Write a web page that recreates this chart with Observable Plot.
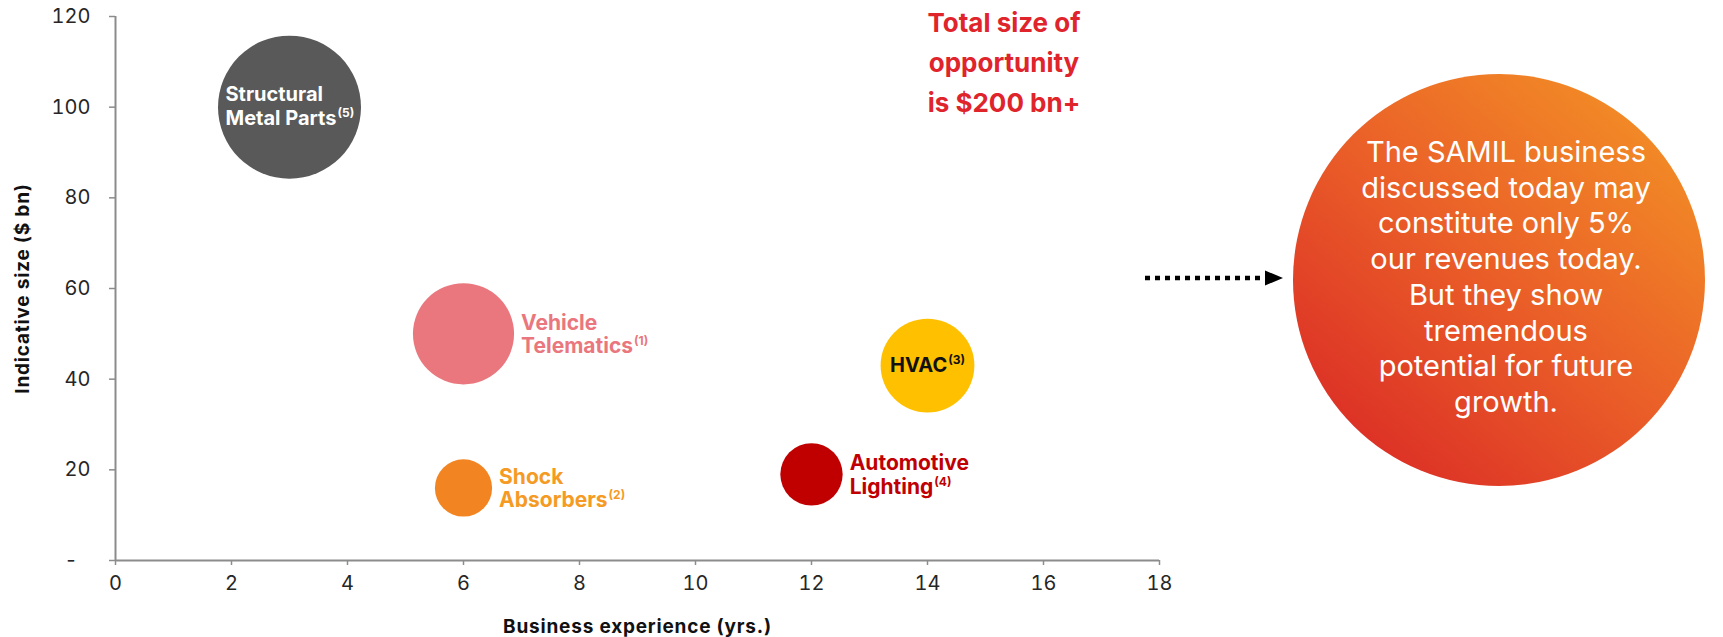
<!DOCTYPE html>
<html>
<head>
<meta charset="utf-8">
<script src="https://cdn.jsdelivr.net/npm/d3@7"></script>
<script src="https://cdn.jsdelivr.net/npm/@observablehq/plot@0.6"></script>
<style>
  html, body { margin: 0; padding: 0; background: #ffffff; }
  #chart { width: 1723px; height: 637px; }
</style>
</head>
<body>
<div id="chart"></div>
<script>
// ---------- data ----------
const segments   = ["Structural\nMetal Parts", "Vehicle\nTelematics", "Shock\nAbsorbers", "HVAC", "Automotive\nLighting"];
const footnotes  = ["(5)", "(1)", "(2)", "(3)", "(4)"];
const experience = [3, 6, 6, 14, 12];        // Business experience (yrs.)
const sizeBn     = [100, 50, 16, 43, 19];    // Indicative size ($ bn)
const bubbleColors = ["#595959", "#E9777D", "#F28522", "#FFC000", "#C00000"];
const labelColors  = ["#FFFFFF", "#E9777D", "#F59A23", "#111111", "#C00000"];
const xTicks = [0, 2, 4, 6, 8, 10, 12, 14, 16, 18];
const yTicks = [0, 20, 40, 60, 80, 100, 120];
const xTitle = "Business experience (yrs.)";
const yTitle = "Indicative size ($ bn)";
const totalLines = ["Total size of", "opportunity", "is $200 bn+"];
const calloutLines = [
  "The SAMIL business",
  "discussed today may",
  "constitute only 5%",
  "our revenues today.",
  "But they show",
  "tremendous",
  "potential for future",
  "growth."
];

const rows = segments.map((name, i) => ({
  name, note: footnotes[i], x: experience[i], size: sizeBn[i],
  color: bubbleColors[i], labelColor: labelColors[i]
}));

// ---------- layout ----------
const FONT = "Inter, 'Noto Sans', 'DejaVu Sans', sans-serif";
const axisGray = "#8c8c8c";
const rMax = 71.5;
const rOf = v => rMax * Math.sqrt(v / 100);
const gap = 7;

// label placement: inside the bubble or to its right
const placement = ["inside-left", "right", "right", "inside", "right"];

const labelMarks = rows.map((d, i) => {
  const p = placement[i];
  const common = {x: "x", y: "size", text: "name", fill: "labelColor", fontWeight: 700, lineAnchor: "middle"};
  if (p === "inside") return Plot.text([d], {...common, textAnchor: "middle", fontSize: 20});
  if (p === "inside-left") return Plot.text([d], {...common, textAnchor: "start", dx: -64, dy: -2, fontSize: 20, lineHeight: 1.2});
  return Plot.text([d], {...common, textAnchor: "start", dx: rOf(d.size) + gap, fontSize: 21, lineHeight: 1.12});
});

const chart = Plot.plot({
  width: 1723,
  height: 637,
  marginLeft: 115,
  marginRight: 564,
  marginTop: 16,
  marginBottom: 77,
  x: {domain: [0, 18]},
  y: {domain: [0, 120]},
  r: {type: "sqrt", domain: [0, 100], range: [0, rMax]},
  color: {type: "identity"},
  style: {fontFamily: FONT, background: "#ffffff", overflow: "visible"},
  marks: [
    Plot.axisY({ticks: yTicks, tickFormat: d => d === 0 ? "-\u2007" : String(d), tickSize: 6, tickPadding: 19,
                fontSize: 20, stroke: axisGray, strokeWidth: 1.5, fill: "#262626", label: null}),
    Plot.axisX({ticks: xTicks, tickFormat: d => String(d), tickSize: 5, tickPadding: 10,
                fontSize: 20, stroke: axisGray, strokeWidth: 1.5, fill: "#262626", label: null}),
    Plot.ruleX([0], {stroke: axisGray, strokeWidth: 2}),
    Plot.ruleY([0], {stroke: axisGray, strokeWidth: 2}),
    Plot.dot(rows, {x: "x", y: "size", r: "size", fill: "color", stroke: "none"}),
    ...labelMarks,
    Plot.text([yTitle], {frameAnchor: "left", dx: -93, rotate: -90, textAnchor: "middle", lineAnchor: "middle",
                         fontSize: 19, fontWeight: 700, fill: "#111"}),
    Plot.text([xTitle], {frameAnchor: "bottom", dy: 66, textAnchor: "middle", lineAnchor: "middle",
                         fontSize: 19, fontWeight: 700, fill: "#111"})
  ]
});

document.getElementById("chart").appendChild(chart);
const svg = d3.select(chart);

// slight tracking on axis titles
svg.selectAll("text")
  .filter(function () { return this.textContent === xTitle || this.textContent === yTitle; })
  .attr("letter-spacing", 0.8);

// superscript footnote markers
rows.forEach(d => {
  const last = d.name.split("\n").pop();
  svg.selectAll("text, tspan")
    .filter(function () { return this.childElementCount === 0 && this.textContent === last; })
    .each(function () {
      d3.select(this).append("tspan")
        .attr("font-size", 12)
        .attr("dx", 1)
        .attr("dy", -8)
        .text(d.note);
    });
});

// ---------- annotations ----------
const defs = svg.append("defs");
const grad = defs.append("linearGradient").attr("id", "calloutGrad")
  .attr("x1", "15%").attr("y1", "90%").attr("x2", "85%").attr("y2", "10%");
grad.append("stop").attr("offset", "0%").attr("stop-color", "#DC3026");
grad.append("stop").attr("offset", "50%").attr("stop-color", "#EA5E28");
grad.append("stop").attr("offset", "100%").attr("stop-color", "#F28B26");

const cx = 1499, cy = 280, cr = 206;
const textX = 1506;
svg.append("circle").attr("cx", cx).attr("cy", cy).attr("r", cr).attr("fill", "url(#calloutGrad)");

const callout = svg.append("text")
  .attr("text-anchor", "middle")
  .attr("font-family", FONT)
  .attr("font-size", 29)
  .attr("fill", "#ffffff");
calloutLines.forEach((line, i) => {
  callout.append("tspan").attr("x", textX).attr("y", 162 + i * 35.7).text(line);
});

// dotted arrow
svg.append("line")
  .attr("x1", 1145).attr("x2", 1266).attr("y1", 278).attr("y2", 278)
  .attr("stroke", "#000").attr("stroke-width", 4.5).attr("stroke-dasharray", "5 5");
svg.append("path")
  .attr("d", "M1265,270.5 L1283,278 L1265,285.5 Z")
  .attr("fill", "#000");

// total opportunity text
const total = svg.append("text")
  .attr("text-anchor", "middle")
  .attr("font-family", FONT)
  .attr("font-size", 26)
  .attr("font-weight", 700)
  .attr("fill", "#E0242B");
totalLines.forEach((line, i) => {
  total.append("tspan").attr("x", 1004).attr("y", 32 + i * 40).text(line);
});
</script>
</body>
</html>
